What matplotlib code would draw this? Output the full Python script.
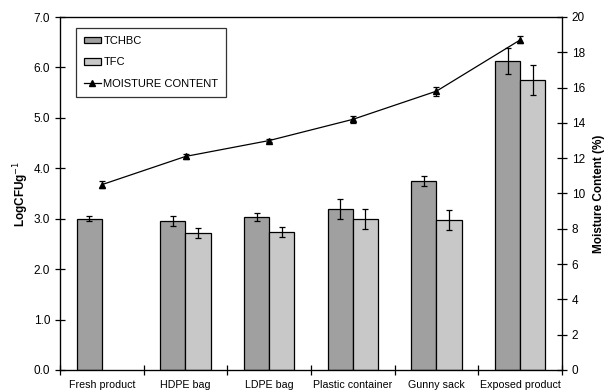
import numpy as np
import matplotlib
matplotlib.use('Agg')
import matplotlib.pyplot as plt
from matplotlib.lines import Line2D

plt.rcParams['font.family'] = ['Liberation Sans', 'DejaVu Sans']

# Data
categories = ['Fresh product', 'HDPE bag', 'LDPE bag', 'Plastic container', 'Gunny sack', 'Exposed product']
tchbc = [3.00, 2.95, 3.03, 3.20, 3.75, 6.13]
tchbc_err = [0.05, 0.10, 0.08, 0.20, 0.10, 0.26]
tfc = [np.nan, 2.71, 2.73, 2.99, 2.97, 5.75]
tfc_err = [np.nan, 0.10, 0.10, 0.20, 0.20, 0.30]
moisture = [10.5, 12.1, 13.0, 14.2, 15.8, 18.7]
moisture_err = [0.2, 0.15, 0.1, 0.2, 0.25, 0.2]

fig = plt.figure(figsize=(6.07, 3.90), dpi=100)
ax = fig.add_axes([60 / 607, 1 - 370 / 390, 502 / 607, 353 / 390])

x = np.arange(len(categories))
width = 0.30

ax.bar(x - width / 2, tchbc, width, color='#a0a0a0', edgecolor='black', linewidth=0.9, label='TCHBC', zorder=2)
tfc_arr = np.array(tfc)
ok = ~np.isnan(tfc_arr)
ax.bar(x[ok] + width / 2, tfc_arr[ok], width, color='#c8c8c8', edgecolor='black', linewidth=0.9, label='TFC', zorder=2)

ax.errorbar(x - width / 2, tchbc, yerr=tchbc_err, fmt='none', ecolor='black', elinewidth=0.9, capsize=2.5, capthick=0.9, zorder=3)
ax.errorbar(x[ok] + width / 2, tfc_arr[ok], yerr=np.array(tfc_err)[ok], fmt='none', ecolor='black', elinewidth=0.9, capsize=2.5, capthick=0.9, zorder=3)

ax.set_xlim(-0.5, len(categories) - 0.5)
ax.set_ylim(0, 7)
ax.set_yticks(np.arange(0, 7.1, 1.0))
ax.set_yticklabels([f'{v:.1f}' for v in np.arange(0, 7.1, 1.0)], fontsize=8.5)
ax.set_xticks(np.arange(-0.5, len(categories)), labels=[])
ax.set_xticks(x, labels=categories, minor=True)
ax.tick_params(axis='x', which='major', direction='inout', length=7, width=0.9)
ax.tick_params(axis='x', which='minor', length=0, labelsize=7.7, pad=7)
ax.tick_params(axis='y', direction='inout', length=7, width=0.9)
ax.set_ylabel('LogCFUg$^{-1}$', fontsize=8.5, fontweight='bold', labelpad=2)
for s in ax.spines.values():
    s.set_linewidth(0.9)

# Moisture content on the secondary axis
ax2 = ax.twinx()
ax2.errorbar(x, moisture, yerr=moisture_err, color='black', linewidth=0.9, marker='^', markersize=4,
             elinewidth=0.9, capsize=2.5, capthick=0.9, zorder=4)
ax2.set_ylim(0, 20)
ax2.set_yticks(np.arange(0, 21, 2))
ax2.tick_params(axis='y', direction='inout', length=7, width=0.9, labelsize=8.5)
ax2.set_ylabel('Moisture Content (%)', fontsize=8.5, fontweight='bold', labelpad=6)

handles = [
    plt.Rectangle((0, 0), 1, 1, facecolor='#a0a0a0', edgecolor='black', linewidth=0.9),
    plt.Rectangle((0, 0), 1, 1, facecolor='#c8c8c8', edgecolor='black', linewidth=0.9),
    Line2D([], [], color='black', linewidth=0.9, marker='^', markersize=4),
]
leg = ax2.legend(handles, ['TCHBC', 'TFC', 'MOISTURE CONTENT'], loc='upper left',
                 bbox_to_anchor=(0.032, 0.969), fontsize=8, frameon=True, fancybox=False,
                 borderpad=0.7, labelspacing=1.05, handlelength=1.55, handleheight=0.5,
                 handletextpad=0.2, borderaxespad=0)
leg.get_frame().set_edgecolor('black')
leg.get_frame().set_linewidth(0.9)

fig.savefig('out.png', dpi=100)
